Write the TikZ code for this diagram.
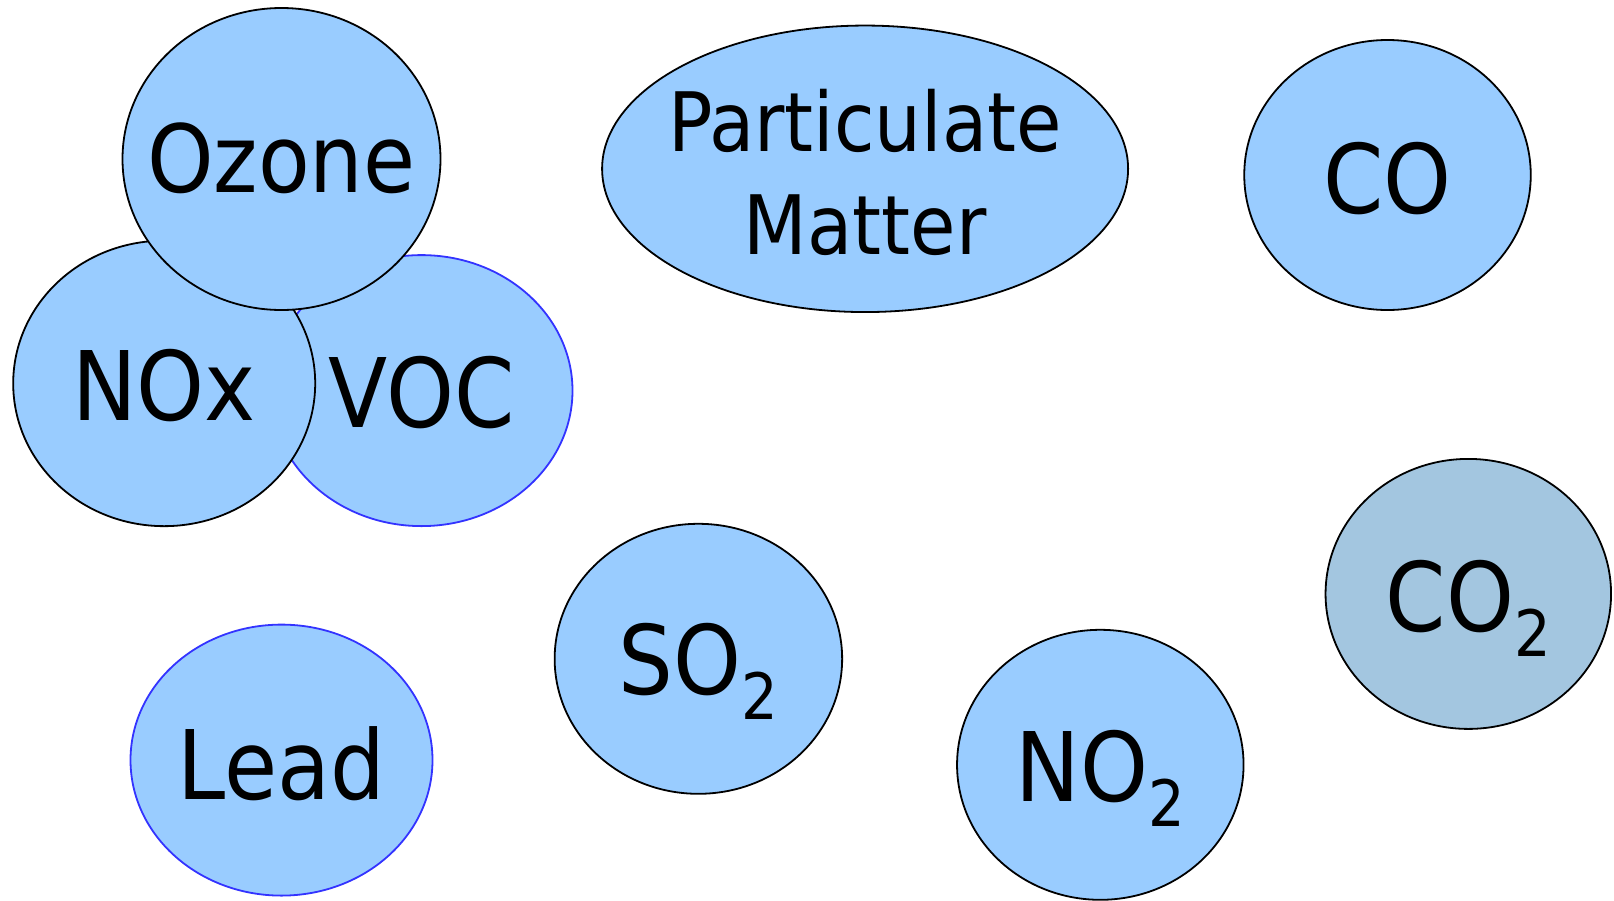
\documentclass[tikz,border=0pt]{standalone}
\usepackage{fontspec}
\setmainfont{DejaVu Sans Condensed}
\usetikzlibrary{shapes.geometric}
\definecolor{fillblue}{HTML}{99CCFF}
\definecolor{fillco}{HTML}{A3C6E0}
\definecolor{edgeblue}{HTML}{3333FF}
\newcommand{\subtwo}{\raisebox{-25pt}{\fontsize{64}{64}\selectfont 2}}
\begin{document}
\begin{tikzpicture}[x=1pt,y=-1pt,
  blob/.style={ellipse, draw=black, line width=1.8pt, fill=fillblue, inner sep=0pt, outer sep=0pt},
  lab/.style={inner sep=0pt, anchor=base, text=black, font=\fontsize{96}{110}\selectfont}]
\useasboundingbox (0,0) rectangle (1614,900);
\fill[white] (0,0) rectangle (1614,900);
% ellipses
\node[blob, draw=edgeblue, minimum width=302pt, minimum height=271pt] (voc) at (421.5,390.6) {};
\node[blob, minimum width=302pt, minimum height=285.5pt] (nox) at (164.2,383.4) {};
\node[blob, minimum width=318pt, minimum height=302pt] (ozone) at (281.5,159) {};
\node[blob, minimum width=526pt, minimum height=286.5pt] (pm) at (865.1,168.8) {};
\node[blob, minimum width=286.5pt, minimum height=270pt] (co) at (1387.5,175) {};
\node[blob, fill=fillco, minimum width=285.5pt, minimum height=270pt] (co2) at (1468.3,593.9) {};
\node[blob, minimum width=287.5pt, minimum height=270pt] (so2) at (698.4,658.8) {};
\node[blob, minimum width=286.5pt, minimum height=270pt] (no2) at (1100.3,764.8) {};
\node[blob, draw=edgeblue, minimum width=302pt, minimum height=271pt] (lead) at (281.5,760.1) {};
% labels
\node[lab, font=\fontsize{94}{100}\selectfont, yshift=-33pt] (ozoneT) at (ozone) {Ozone};
\node[lab, yshift=-37pt] (noxT) at (nox) {NOx};
\node[lab, yshift=-37pt] (vocT) at (voc) {VOC};
\node[lab, anchor=center, align=center, font=\fontsize{82}{103.3}\selectfont, yshift=-3.4pt] (pmT) at (pm) {Particulate\\Matter};
\node[lab, yshift=-38.7pt] (coT) at (co) {CO};
\node[lab, yshift=-38pt] (co2T) at (co2) {CO\subtwo};
\node[lab, yshift=-35.6pt] (so2T) at (so2) {SO\subtwo};
\node[lab, yshift=-37pt] (no2T) at (no2) {NO\subtwo};
\node[lab, yshift=-39pt] (leadT) at (lead) {Lead};
\end{tikzpicture}
\end{document}
